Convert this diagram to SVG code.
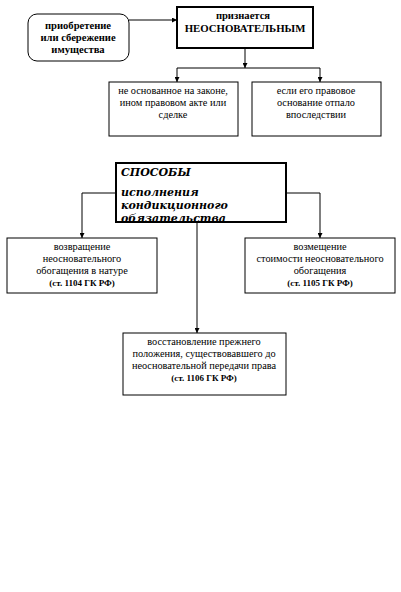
<svg xmlns="http://www.w3.org/2000/svg" width="401" height="592" viewBox="0 0 401 592">
<defs>
<marker id="ah" viewBox="0 0 6 6" refX="6" refY="3" markerWidth="5" markerHeight="5" orient="auto" markerUnits="userSpaceOnUse">
<path d="M0,0 L6,3 L0,6 z" fill="#000"/>
</marker>
<style>
.b{fill:#fff;stroke:#000;stroke-width:1}
.bt{fill:#fff;stroke:#000;stroke-width:2}
.t{font-size:10.3px;fill:#000;text-anchor:middle}
.tb{font-size:10.6px;font-weight:bold;fill:#000;text-anchor:middle}
.ts{font-size:9px;font-weight:bold;fill:#000;text-anchor:middle}
.ti{font-family:'DejaVu Serif',serif;font-size:11px;font-weight:bold;font-style:italic;fill:#000}
.c{fill:none;stroke:#000;stroke-width:1}
</style>
</defs>
<rect width="401" height="592" fill="#fff"/>
<g id="connectors">
<path class="c" d="M129,20 H177" marker-end="url(#ah)"/>
<path class="c" d="M245,48 V68" marker-end="url(#ah)"/>
<path class="c" d="M177,68 H320"/>
<path class="c" d="M177,68 V82" marker-end="url(#ah)"/>
<path class="c" d="M320,68 V82" marker-end="url(#ah)"/>
<path class="c" d="M116,193 H82 V238" marker-end="url(#ah)"/>
<path class="c" d="M286,193 H320 V238" marker-end="url(#ah)"/>
<path class="c" d="M197,222 V333" marker-end="url(#ah)"/>
</g>
<g font-family="'Liberation Serif', 'Times New Roman', 'DejaVu Serif', serif">
<g id="n1">
<rect class="b" x="28" y="14" width="101" height="47" rx="9"/>
<text class="tb" x="78" y="29">приобретение</text>
<text class="tb" x="78" y="41">или сбережение</text>
<text class="tb" x="78" y="53">имущества</text>
</g>
<g id="n2">
<rect class="bt" x="177" y="7" width="136" height="41"/>
<text class="tb" x="243" y="19">признается</text>
<text class="tb" x="245" y="32" style="font-size:10.8px">НЕОСНОВАТЕЛЬНЫМ</text>
</g>
<g id="n3">
<rect class="b" x="109" y="82" width="129" height="54"/>
<text class="t" x="173" y="94">не основанное на законе,</text>
<text class="t" x="173" y="106">ином правовом акте или</text>
<text class="t" x="173" y="118">сделке</text>
</g>
<g id="n4">
<rect class="b" x="252" y="82" width="129" height="54"/>
<text class="t" x="316" y="94">если его правовое</text>
<text class="t" x="316" y="106">основание отпало</text>
<text class="t" x="316" y="118">впоследствии</text>
</g>
<g id="n5">
<rect class="bt" x="116" y="163" width="170" height="59"/>
<text class="ti" x="121" y="176">СПОСОБЫ</text>
<text class="ti" x="121" y="196">исполнения</text>
<text class="ti" x="121" y="209">кондикционного</text>
<text class="ti" x="121" y="222">обязательства</text>
</g>
<g id="n6">
<rect class="b" x="7" y="238" width="150" height="55"/>
<text class="t" x="82" y="250">возвращение</text>
<text class="t" x="82" y="262">неосновательного</text>
<text class="t" x="82" y="274">обогащения в натуре</text>
<text class="ts" x="82" y="286">(ст. 1104 ГК РФ)</text>
</g>
<g id="n7">
<rect class="b" x="245" y="238" width="150" height="55"/>
<text class="t" x="320" y="250">возмещение</text>
<text class="t" x="320" y="262">стоимости неосновательного</text>
<text class="t" x="320" y="274">обогащения</text>
<text class="ts" x="320" y="286">(ст. 1105 ГК РФ)</text>
</g>
<g id="n8">
<rect class="b" x="123" y="333" width="163" height="62"/>
<text class="t" x="204" y="345">восстановление прежнего</text>
<text class="t" x="204" y="357">положения, существовавшего до</text>
<text class="t" x="204" y="369">неосновательной передачи права</text>
<text class="ts" x="204" y="381">(ст. 1106 ГК РФ)</text>
</g>
</g>
</svg>
